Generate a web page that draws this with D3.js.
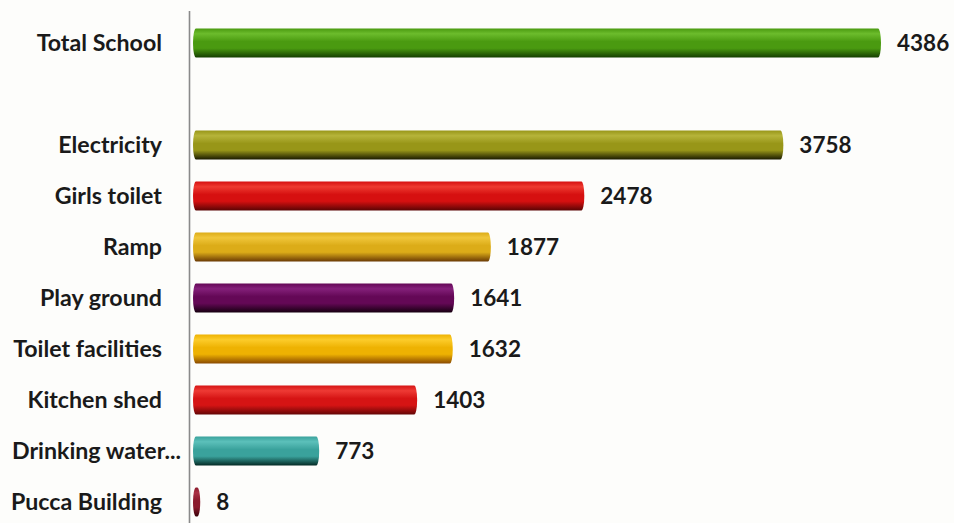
<!DOCTYPE html>
<html>
<head>
<meta charset="utf-8">
<script src="https://cdn.jsdelivr.net/npm/d3@7"></script>
<style>
  html, body { margin: 0; padding: 0; background: #fdfdfb; }
  svg { display: block; }
  text { font-family: Lato, "Open Sans", sans-serif; font-weight: 700; fill: #1a1a1a; }
</style>
</head>
<body>
<svg id="chart" width="954" height="523"></svg>
<script>
// School facilities: number of schools with each facility
const categories = ["Total School", "Electricity", "Girls toilet", "Ramp", "Play ground",
                    "Toilet facilities", "Kitchen shed", "Drinking water...", "Pucca Building"];
const values = [4386, 3758, 2478, 1877, 1641, 1632, 1403, 773, 8];
// base / highlight / shadow tones for each cylinder
const baseColors  = ["#4a9a10", "#989618", "#d61010", "#dcac18", "#640856", "#eeb202", "#d61414", "#3aa29c", "#8a1a2c"];
const lightColors = ["#6cbc2c", "#b6b43a", "#ee3a30", "#f0c63a", "#84207a", "#fccc2a", "#ee3a34", "#5cc0ba", "#aa3044"];
const darkColors  = ["#143e00", "#1a1a00", "#5a0404", "#6a3a04", "#160010", "#8a4a00", "#640606", "#042a24", "#380008"];

// rows, with an empty slot under the first bar
const rows = [categories[0], "__gap__", ...categories.slice(1)];

const svg = d3.select("#chart");
const cap = 3;      // half-width of the rounded cylinder ends
const barH = 29;

const x = d3.scaleLinear().domain([0, d3.max(values)]).range([196, 878]);
const y = d3.scalePoint().domain(rows).range([43, 502]);

const defs = svg.append("defs");
categories.forEach((c, i) => {
  const g = defs.append("linearGradient")
    .attr("id", "grad" + i)
    .attr("x1", 0).attr("y1", 0).attr("x2", 0).attr("y2", 1);
  g.append("stop").attr("offset", "0%").attr("stop-color", baseColors[i]);
  g.append("stop").attr("offset", "18%").attr("stop-color", lightColors[i]);
  g.append("stop").attr("offset", "45%").attr("stop-color", baseColors[i]);
  g.append("stop").attr("offset", "68%").attr("stop-color", baseColors[i]);
  g.append("stop").attr("offset", "100%").attr("stop-color", darkColors[i]);
});

// vertical category axis line
svg.append("line")
  .attr("x1", 189.5).attr("x2", 189.5)
  .attr("y1", 11).attr("y2", 523)
  .attr("stroke", "#8a8a8a").attr("stroke-width", 1.6);

const data = categories.map((c, i) => ({ c, v: values[i], i }));

// cylinder bars
svg.selectAll("rect.bar").data(data).join("rect")
  .attr("class", "bar")
  .attr("x", x(0) - cap)
  .attr("y", d => y(d.c) - barH / 2)
  .attr("width", d => x(d.v) - x(0) + 2 * cap)
  .attr("height", barH)
  .attr("rx", cap).attr("ry", barH / 2)
  .attr("fill", d => `url(#grad${d.i})`);

// category labels (a truncated label runs on toward the axis)
svg.selectAll("text.cat").data(data).join("text")
  .attr("class", "cat")
  .attr("x", d => d.c.endsWith("...") ? 181 : 162)
  .attr("y", d => y(d.c))
  .attr("dy", "0.35em")
  .attr("text-anchor", "end")
  .attr("font-size", 23.2)
  .text(d => d.c);

// value labels
svg.selectAll("text.val").data(data).join("text")
  .attr("class", "val")
  .attr("x", d => x(d.v) + cap + 16)
  .attr("y", d => y(d.c))
  .attr("dy", "0.36em")
  .attr("font-size", 22.5)
  .text(d => d.v);
</script>
</body>
</html>
